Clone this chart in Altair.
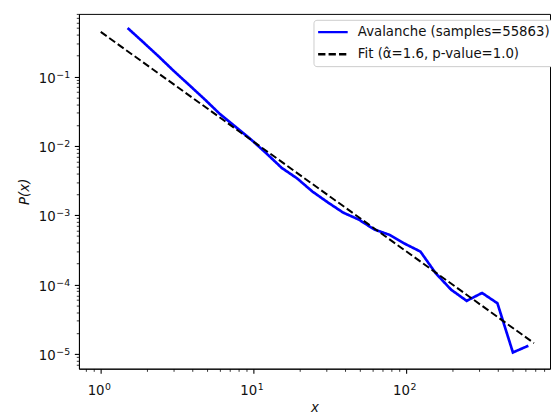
import altair as alt
import pandas as pd

# ---- data ----
aval_x = [1.5, 1.9, 2.4, 3.0, 3.8, 4.8, 6.0, 7.6, 9.6, 12.1, 15.3, 19.3, 24.3, 30.7,
          38.7, 48.9, 61.7, 77.8, 98, 124, 156, 197, 249, 314, 396, 500, 631]
aval_y = [0.501, 0.312, 0.194, 0.121, 0.0752, 0.0468, 0.0291, 0.0190, 0.01245,
          0.00787, 0.00482, 0.00340, 0.00220, 0.00153, 0.00109, 8.67e-4, 6.24e-4,
          5.21e-4, 3.88e-4, 2.99e-4, 1.46e-4, 8.43e-5, 5.82e-5, 7.57e-5, 5.37e-5,
          1.05e-5, 1.31e-5]
fit_x = [1.0, 687]
fit_y = [0.44, 1.43e-5]

LAB_A = "Avalanche (samples=55863)"
LAB_F = "Fit (\u03b1\u0302=1.6, p-value=1.0)"

x_major = [1, 10, 100]
x_minor = [0.8, 0.9, 2, 3, 4, 5, 6, 7, 8, 9, 20, 30, 40, 50, 60, 70, 80, 90,
           200, 300, 400, 500, 600, 700, 800]
y_major = [1e-5, 1e-4, 1e-3, 1e-2, 1e-1]
y_minor = [7e-6, 8e-6, 9e-6,
           2e-5, 3e-5, 4e-5, 5e-5, 6e-5, 7e-5, 8e-5, 9e-5,
           2e-4, 3e-4, 4e-4, 5e-4, 6e-4, 7e-4, 8e-4, 9e-4,
           2e-3, 3e-3, 4e-3, 5e-3, 6e-3, 7e-3, 8e-3, 9e-3,
           2e-2, 3e-2, 4e-2, 5e-2, 6e-2, 7e-2, 8e-2, 9e-2,
           0.2, 0.3, 0.4, 0.5, 0.6, 0.7, 0.8]

x_domain = [0.72, 875]
y_domain = [6.12e-6, 0.80]

df_a = pd.DataFrame({"x": aval_x, "y": aval_y, "series": LAB_A})
df_f = pd.DataFrame({"x": fit_x, "y": fit_y, "series": LAB_F})

FONT = "DejaVu Sans"
TXT = "#111"
exp_expr = "round(log(datum.value)/LN10)"
exp_label = f"({exp_expr} < 0 ? '\u2212' : '') + abs({exp_expr})"

xs = alt.Scale(type="log", domain=x_domain, nice=False)
ys = alt.Scale(type="log", domain=y_domain, nice=False)

color_scale = alt.Scale(domain=[LAB_A, LAB_F], range=["#0000ff", "#000000"])
dash_scale = alt.Scale(domain=[LAB_A, LAB_F], range=[[1, 0], [7.4, 3.2]])

legend = alt.Legend(orient="none", legendX=238, legendY=6, title=None,
                    fillColor="white", strokeColor="#cccccc", cornerRadius=3,
                    padding=5, labelFontSize=13.5, labelFont=FONT, labelColor=TXT,
                    symbolType="M-1.3,0H3.7", symbolSize=144, symbolStrokeWidth=2.5,
                    labelOffset=25, rowPadding=8.5, labelLimit=400)

# major axes: ticks + the "10" base of each label + titles
x_axis_major = alt.Axis(values=x_major, labelExpr="'10'", orient="bottom",
                        tickSize=4.7, tickWidth=1.1, labelPadding=21.3,
                        labelBaseline="alphabetic", labelAlign="right", labelOffset=3.4,
                        grid=False,
                        labelFont=FONT, labelFontSize=13.5, labelColor=TXT,
                        domainColor="#000", tickColor="#000",
                        title="x", titleFont=FONT, titleFontSize=13.5,
                        titleFontStyle="italic", titleFontWeight="normal",
                        titleColor=TXT, titleY=39, titleBaseline="middle")
y_axis_major = alt.Axis(values=y_major, labelExpr="'10'", orient="left",
                        tickSize=4.7, tickWidth=1.1, labelPadding=19.3,
                        labelAlign="right", labelBaseline="alphabetic", labelOffset=5.7,
                        grid=False, labelFont=FONT, labelFontSize=13.5, labelColor=TXT,
                        domainColor="#000", tickColor="#000",
                        title="P(x)", titleFont=FONT, titleFontSize=13.5,
                        titleFontStyle="italic", titleFontWeight="normal",
                        titleColor=TXT, titleX=-55, titleY=180,
                        titleAngle=270, titleAlign="center", titleBaseline="middle")

# exponent parts of the labels
x_axis_exp = alt.Axis(values=x_major, labelExpr=exp_label, orient="bottom",
                      tickSize=0, domain=False, grid=False, labelPadding=21,
                      labelBaseline="alphabetic", labelAlign="left", labelOffset=3.9,
                      labelFont=FONT, labelFontSize=9.5, labelColor=TXT, title=None)
y_axis_exp = alt.Axis(values=y_major, labelExpr=exp_label, orient="left",
                      tickSize=0, domain=False, grid=False, labelPadding=23.5,
                      labelAlign="left", labelBaseline="alphabetic", labelOffset=0.5,
                      labelFont=FONT, labelFontSize=9.5, labelColor=TXT, title=None)

# minor ticks
x_axis_minor = alt.Axis(values=x_minor, labels=False, orient="bottom", tickSize=2.7,
                        tickWidth=0.8, grid=False, domain=False, tickColor="#000",
                        title=None)
y_axis_minor = alt.Axis(values=y_minor, labels=False, orient="left", tickSize=2.7,
                        tickWidth=0.8, grid=False, domain=False, tickColor="#000",
                        title=None)

aval = alt.Chart(df_a).mark_line(strokeWidth=2.7, clip=True).encode(
    x=alt.X("x:Q", scale=xs, axis=x_axis_major),
    y=alt.Y("y:Q", scale=ys, axis=y_axis_major),
    color=alt.Color("series:N", scale=color_scale, legend=legend),
    strokeDash=alt.StrokeDash("series:N", scale=dash_scale, legend=legend),
)

fit = alt.Chart(df_f).mark_line(strokeWidth=2.0, clip=True).encode(
    x=alt.X("x:Q", scale=xs, axis=None),
    y=alt.Y("y:Q", scale=ys, axis=None),
    color=alt.Color("series:N", scale=color_scale, legend=legend),
    strokeDash=alt.StrokeDash("series:N", scale=dash_scale, legend=legend),
)

minor = alt.Chart(df_f).mark_line(opacity=0).encode(
    x=alt.X("x:Q", scale=xs, axis=x_axis_minor),
    y=alt.Y("y:Q", scale=ys, axis=y_axis_minor),
)

expo = alt.Chart(df_f).mark_line(opacity=0).encode(
    x=alt.X("x:Q", scale=xs, axis=x_axis_exp),
    y=alt.Y("y:Q", scale=ys, axis=y_axis_exp),
)

chart = alt.layer(aval, fit, minor, expo).resolve_axis(
    x="independent", y="independent"
).properties(
    width=478, height=360,
    autosize=alt.AutoSizeParams(type="none"),
    padding={"left": 72, "top": 3, "right": 1, "bottom": 44},
    background="white",
).configure_view(stroke="#000", strokeWidth=1)

chart.save("out.html", embed_options={"renderer": "svg", "actions": False})
